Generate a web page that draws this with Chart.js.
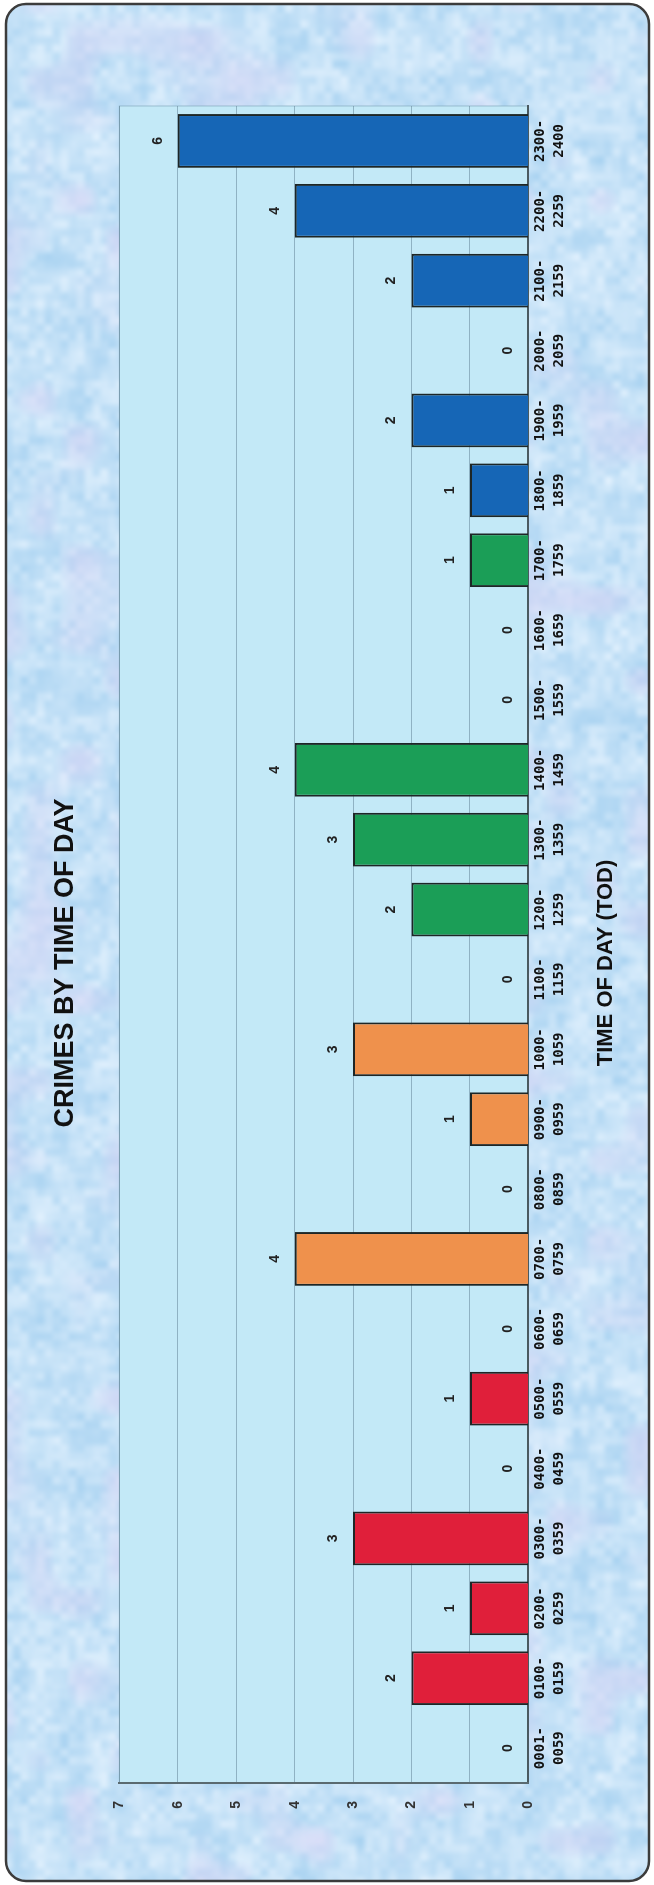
<!DOCTYPE html>
<html>
<head>
<meta charset="utf-8">
<title>Crimes by time of day</title>
<script src="https://cdn.jsdelivr.net/npm/chart.js@4.4.1/dist/chart.umd.min.js"></script>
<style>
    html, body { margin: 0; padding: 0; background: #fff; }
    #page { position: relative; width: 654px; height: 1885px; overflow: hidden; }
    #bg { position: absolute; left: 0; top: 0; }
    /* chart is laid out landscape, then turned a quarter turn to the left */
    #rot {
        position: absolute; left: 0; top: 0;
        width: 1885px; height: 654px;
        transform-origin: 0 0;
        transform: translate(0, 1885px) rotate(-90deg);
    }
</style>
</head>
<body>
<div id="page">
    <canvas id="bg" width="654" height="1885"></canvas>
    <div id="rot"><canvas id="myChart" width="1885" height="654"></canvas></div>
</div>
<script>
const timeSlots = [
    ['0001-', '0059'], ['0100-', '0159'], ['0200-', '0259'], ['0300-', '0359'],
    ['0400-', '0459'], ['0500-', '0559'], ['0600-', '0659'], ['0700-', '0759'],
    ['0800-', '0859'], ['0900-', '0959'], ['1000-', '1059'], ['1100-', '1159'],
    ['1200-', '1259'], ['1300-', '1359'], ['1400-', '1459'], ['1500-', '1559'],
    ['1600-', '1659'], ['1700-', '1759'], ['1800-', '1859'], ['1900-', '1959'],
    ['2000-', '2059'], ['2100-', '2159'], ['2200-', '2259'], ['2300-', '2400']
];
const crimeCounts = [0, 2, 1, 3, 0, 1, 0, 4, 0, 1, 3, 0, 2, 3, 4, 0, 0, 1, 1, 2, 0, 2, 4, 6];
// which shift block each slot belongs to
const slotShift = [0, 0, 0, 0, 0, 0, 1, 1, 1, 1, 1, 1, 2, 2, 2, 2, 2, 2, 3, 3, 3, 3, 3, 3];
const shiftColors = ['#e01f3a', '#ef914c', '#1b9e57', '#1666b6'];

const barColors = slotShift.map(s => shiftColors[s]);
const sansFont = '"Liberation Sans", Arial, sans-serif';

// mottled blue card behind the chart
function hash(i, j) {
    const s = Math.sin(i * 127.1 + j * 311.7) * 43758.5453;
    return s - Math.floor(s);
}
function noise(x, y) {
    const i = Math.floor(x), j = Math.floor(y);
    const fx = x - i, fy = y - j;
    const u = fx * fx * (3 - 2 * fx), v = fy * fy * (3 - 2 * fy);
    const a = hash(i, j), b = hash(i + 1, j), c = hash(i, j + 1), d = hash(i + 1, j + 1);
    return a + (b - a) * u + (c - a) * v + (a - b - c + d) * u * v;
}
function drawBackdrop() {
    const canvas = document.getElementById('bg');
    const g = canvas.getContext('2d');
    const w = canvas.width, h = canvas.height;

    const tex = document.createElement('canvas');
    tex.width = w; tex.height = h;
    const tg = tex.getContext('2d');
    const img = tg.createImageData(w, h);
    for (let y = 0; y < h; y++) {
        for (let x = 0; x < w; x++) {
            const n = 0.5 * noise(x / 20, y / 20) + 0.5 * noise(x / 8, y / 8);
            const t = noise(x / 40 + 50, y / 40 + 20);
            let r = 170 + (224 - 170) * n;
            let gg = 211 + (240 - 211) * n;
            let b = 241 + (253 - 241) * n;
            if (t > 0.6) {
                const k = Math.min(1, (t - 0.6) * 1.5);
                r += (212 - r) * k; gg += (210 - gg) * k; b += (244 - b) * k;
            }
            const p = (y * w + x) * 4;
            img.data[p] = r; img.data[p + 1] = gg; img.data[p + 2] = b; img.data[p + 3] = 255;
        }
    }
    tg.putImageData(img, 0, 0);

    g.fillStyle = '#fff';
    g.fillRect(0, 0, w, h);
    g.save();
    g.beginPath();
    g.roundRect(6, 4, 643, 1877, 20);
    g.clip();
    g.drawImage(tex, 0, 0);
    g.restore();
    g.beginPath();
    g.roundRect(6, 4, 643, 1877, 20);
    g.lineWidth = 2.5;
    g.strokeStyle = '#3c3c3c';
    g.stroke();
}

const plotBackground = {
    id: 'plotBackground',
    beforeDraw(chart) {
        const { ctx, chartArea: a } = chart;
        ctx.save();
        ctx.fillStyle = '#c3e9f7';
        ctx.fillRect(a.left, a.top, a.right - a.left, a.bottom - a.top);
        ctx.strokeStyle = 'rgba(120,160,180,0.6)';
        ctx.lineWidth = 1;
        ctx.strokeRect(a.left, a.top, a.right - a.left, a.bottom - a.top);
        ctx.restore();
    }
};

const valueLabels = {
    id: 'valueLabels',
    afterDatasetsDraw(chart) {
        const ctx = chart.ctx;
        const meta = chart.getDatasetMeta(0);
        ctx.save();
        ctx.font = 'bold 14px ' + sansFont;
        ctx.fillStyle = '#222';
        ctx.textAlign = 'center';
        ctx.textBaseline = 'middle';
        meta.data.forEach((bar, i) => {
            ctx.fillText(String(crimeCounts[i]), bar.x, bar.y - 20);
        });
        ctx.restore();
    }
};

document.addEventListener('DOMContentLoaded', () => {
    drawBackdrop();

    const ctx = document.getElementById('myChart').getContext('2d');
    new Chart(ctx, {
        type: 'bar',
        data: {
            labels: timeSlots,
            datasets: [{
                data: crimeCounts,
                backgroundColor: barColors,
                borderColor: '#1d2626',
                borderWidth: 2,
                barPercentage: 0.77,
                categoryPercentage: 1
            }]
        },
        options: {
            responsive: false,
            animation: false,
            layout: { padding: { left: 65, right: 106, top: 0, bottom: 0 } },
            plugins: {
                legend: { display: false },
                tooltip: { enabled: false },
                title: {
                    display: true,
                    text: 'CRIMES BY TIME OF DAY',
                    color: '#111',
                    font: { family: sansFont, size: 27, weight: 'bold', lineHeight: 1.2 },
                    padding: { top: 49, bottom: 38 }
                },
                subtitle: {
                    display: true,
                    position: 'bottom',
                    text: 'TIME OF DAY (TOD)',
                    color: '#111',
                    font: { family: sansFont, size: 22, weight: 'bold', lineHeight: 1.2 },
                    padding: { top: 21, bottom: 35 }
                }
            },
            scales: {
                x: {
                    grid: { display: false, drawTicks: false },
                    border: { color: '#4a5a60', width: 2 },
                    ticks: {
                        color: '#111',
                        font: { family: '"DejaVu Sans Mono", monospace', size: 14, weight: 'bold', lineHeight: 1.4 },
                        padding: 2,
                        maxRotation: 0,
                        autoSkip: false
                    }
                },
                y: {
                    min: 0,
                    max: 7,
                    ticks: {
                        stepSize: 1,
                        padding: 18,
                        color: '#333',
                        font: { family: sansFont, size: 14, weight: 'bold' }
                    },
                    grid: { color: 'rgba(80,110,130,0.45)', drawTicks: false },
                    border: { color: '#5a6a70', width: 2 },
                    afterFit: (scale) => { scale.width = 37; }
                }
            }
        },
        plugins: [plotBackground, valueLabels]
    });
});
</script>
</body>
</html>
